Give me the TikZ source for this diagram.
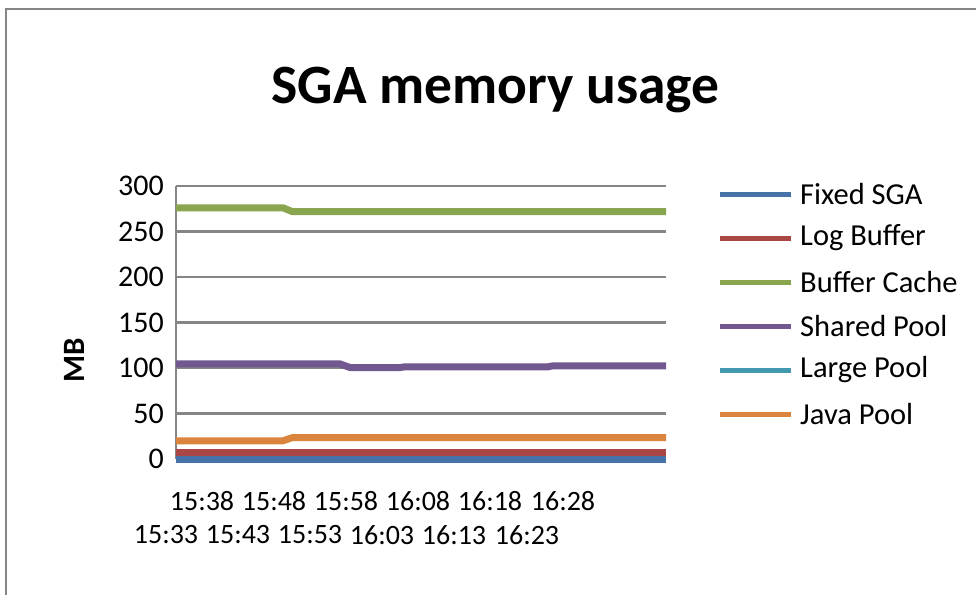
\documentclass[tikz,border=0pt]{standalone}
\usepackage{fontspec}
\setmainfont{Carlito}
\definecolor{sgablue}{HTML}{4572A7}
\definecolor{sgared}{HTML}{AA4643}
\definecolor{sgagreen}{HTML}{89A54E}
\definecolor{sgapurple}{HTML}{71588F}
\definecolor{sgateal}{HTML}{4198AF}
\definecolor{sgaorange}{HTML}{DB843D}
\definecolor{gridgray}{HTML}{868686}
\tikzset{
  gridline/.style={draw=gridgray, line width=2.7pt},
  series/.style={line width=7pt, line join=round},
  legline/.style={line width=5pt},
  ticklab/.style={font=\fontsize{30}{30}\selectfont, inner sep=0pt},
  timelab/.style={font=\fontsize{28}{28}\selectfont, inner sep=0pt},
  leglab/.style={font=\fontsize{30.5}{30.5}\selectfont, anchor=west, inner sep=0pt},
}
\begin{document}
\begin{tikzpicture}[x=1pt,y=-1pt]
\useasboundingbox (0,0) rectangle (976,594);
\begin{scope}
\clip (0,0) rectangle (976,594);
\draw[draw=gridgray, line width=2.5pt] (6,1000) -- (6,9) -- (1000,9);
\end{scope}
% title
\node[font=\bfseries\fontsize{55.5}{55.5}\selectfont, anchor=base, inner sep=0pt] (title) at (495.5,103) {SGA memory usage};
% grid
\foreach \v/\yy in {0/459,50/413.5,100/368,150/322.5,200/277,250/231.5,300/186}{
  \draw[gridline] (176,\yy) -- (666,\yy);
  \node[ticklab, anchor=east] (y\v) at (164,\yy) {\v};
}
\draw[gridline] (176,186) -- (176,459);
% axis title
\node[font=\bfseries\fontsize{31}{31}\selectfont, rotate=90, inner sep=0pt] (mb) at (74,360) {MB};
% x labels
\foreach \t/\xx in {15:38/202,15:48/274,15:58/346,16:08/418,16:18/490,16:28/563}{
  \node[timelab] at (\xx,501) {\t};
}
\foreach \t/\xx in {15:33/166,15:43/238,15:53/310,16:03/382,16:13/454,16:23/527}{
  \node[timelab] at (\xx,535) {\t};
}
% series
\draw[series, sgablue] (176,459) -- (666,459);
\draw[series, sgared] (176,452.6) -- (666,452.6);
\draw[series, sgagreen] (176,207.8) -- (283,207.8) -- (292,211.5) -- (666,211.5);
\draw[series, sgapurple] (176,363.9) -- (340,363.9) -- (350,367.5) -- (400,367.5) -- (405,366.8) -- (548,366.8) -- (553,365.8) -- (666,365.8);
\draw[series, sgaorange] (176,440.8) -- (283,440.8) -- (292,437.7) -- (666,437.7);
% legend
\foreach \n/\c/\yy in {Fixed SGA/sgablue/194,Log Buffer/sgared/238,Buffer Cache/sgagreen/282,Shared Pool/sgapurple/326,Large Pool/sgateal/370,Java Pool/sgaorange/414}{
  \draw[legline, \c] (720,\yy) -- (791,\yy);
  \node[leglab] at (800,\yy) {\n};
}
\end{tikzpicture}
\end{document}
